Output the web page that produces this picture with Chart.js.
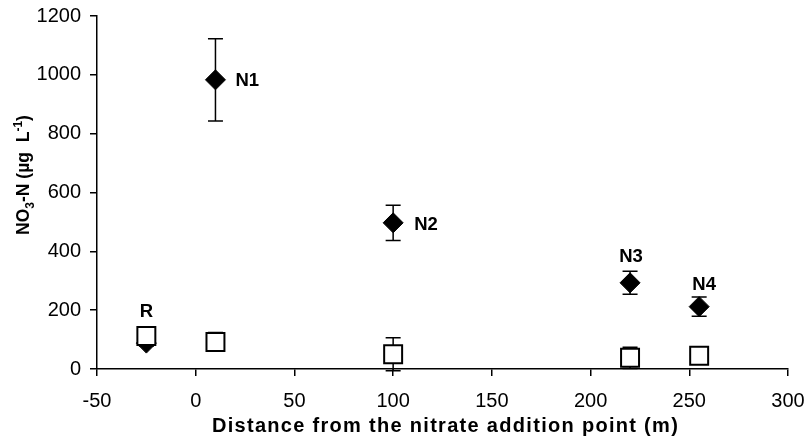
<!DOCTYPE html>
<html><head><meta charset="utf-8">
<script src="https://cdn.jsdelivr.net/npm/chart.js@4.4.1/dist/chart.umd.min.js"></script>
<style>html,body{margin:0;padding:0;background:#fff}#wrap{width:809px;height:445px}</style>
</head><body><div id="wrap"><canvas id="c" width="809" height="445"></canvas></div>
<script>
// ---- data ----
const distanceN = [-25, 10, 100, 220, 255];
const nitrateN = [88, 983, 497, 293, 212];
const nitrateNErr = [10, 140, 60, 39, 33];
const siteLabels = ['R', 'N1', 'N2', 'N3', 'N4'];
const distanceRef = [-25, 10, 100, 220, 255];
const nitrateRef = [112, 92, 50, 38, 45];
const nitrateRefErr = [12, 32, 56, 36, 8];
const xTickValues = [-50, 0, 50, 100, 150, 200, 250, 300];
const yTickValues = [0, 200, 400, 600, 800, 1000, 1200];
const xTitle = 'Distance from the nitrate addition point (m)';
const yTitleParts = [['NO', 'n'], ['3', 'sub'], ['-N (µg  L', 'n'], ['-1', 'sup'], [')', 'n']];

// ---- styling ----
const FONT = '"Liberation Sans", Arial, sans-serif';
const labelPlacement = [
  {dx: 0, dy: -31, align: 'center'},
  {dx: 20, dy: 1, align: 'left'},
  {dx: 21, dy: 2, align: 'left'},
  {dx: 1, dy: -26, align: 'center'},
  {dx: 5, dy: -22, align: 'center'}
];

const errorBars = {
  id: 'errorBars',
  beforeDatasetsDraw(chart) {
    const {ctx, scales: {x, y}} = chart;
    ctx.save();
    ctx.strokeStyle = '#000';
    ctx.lineWidth = 1.5;
    chart.data.datasets.forEach(ds => {
      if (!ds.errors) return;
      ds.data.forEach((p, i) => {
        const e = ds.errors[i];
        const px = x.getPixelForValue(p.x);
        const yt = y.getPixelForValue(p.y + e);
        const yb = y.getPixelForValue(p.y - e);
        ctx.beginPath();
        ctx.moveTo(px, yt); ctx.lineTo(px, yb);
        ctx.moveTo(px - 7.5, yt); ctx.lineTo(px + 7.5, yt);
        ctx.moveTo(px - 7.5, yb); ctx.lineTo(px + 7.5, yb);
        ctx.stroke();
      });
    });
    ctx.restore();
  }
};

const textPlugin = {
  id: 'texts',
  afterDatasetsDraw(chart) {
    const {ctx, chartArea} = chart;
    ctx.save();
    ctx.fillStyle = '#000';
    // point labels
    const meta = chart.getDatasetMeta(1);
    ctx.font = 'bold 18.5px ' + FONT;
    ctx.textBaseline = 'middle';
    meta.data.forEach((el, i) => {
      const pl = labelPlacement[i];
      ctx.textAlign = pl.align;
      ctx.fillText(siteLabels[i], el.x + pl.dx, el.y + pl.dy);
    });
    // x title
    ctx.font = 'bold 20px ' + FONT;
    ctx.textAlign = 'center';
    ctx.textBaseline = 'alphabetic';
    try { ctx.letterSpacing = '1.3px'; } catch (e) {}
    ctx.fillText(xTitle, (chartArea.left + chartArea.right) / 2 + 3, 432);
    try { ctx.letterSpacing = '0px'; } catch (e) {}
    // y title (rotated, with sub/superscript)
    const base = 17.5, small = 12;
    const fontFor = k => 'bold ' + (k === 'n' ? base : small) + 'px ' + FONT;
    let total = 0;
    yTitleParts.forEach(([t, k]) => { ctx.font = fontFor(k); total += ctx.measureText(t).width; });
    ctx.translate(29, 175);
    ctx.rotate(-Math.PI / 2);
    ctx.textAlign = 'left';
    let cx = -total / 2;
    yTitleParts.forEach(([t, k]) => {
      ctx.font = fontFor(k);
      const dy = k === 'sub' ? 5 : (k === 'sup' ? -7 : 0);
      ctx.fillText(t, cx, dy);
      cx += ctx.measureText(t).width;
    });
    ctx.restore();
  }
};

new Chart(document.getElementById('c'), {
  type: 'scatter',
  data: {
    datasets: [
      {
        label: 'Reference',
        data: distanceRef.map((v, i) => ({x: v, y: nitrateRef[i]})),
        errors: nitrateRefErr,
        pointStyle: 'rect', pointRadius: 12.7, pointHoverRadius: 12.7,
        pointBackgroundColor: '#fff', pointBorderColor: '#000', pointBorderWidth: 2,
        showLine: false, order: 0
      },
      {
        label: 'Nitrate',
        data: distanceN.map((v, i) => ({x: v, y: nitrateN[i]})),
        errors: nitrateNErr,
        pointStyle: 'rectRot', pointRadius: 10, pointHoverRadius: 10,
        pointBackgroundColor: '#000', pointBorderColor: '#000', pointBorderWidth: 1,
        showLine: false, order: 1
      }
    ]
  },
  options: {
    responsive: false, animation: false, devicePixelRatio: 1,
    layout: {padding: {left: 0, right: 21, top: 16, bottom: 0}},
    plugins: {legend: {display: false}, tooltip: {enabled: false}},
    scales: {
      x: {
        type: 'linear', min: -50, max: 300,
        afterBuildTicks: s => { s.ticks = xTickValues.map(v => ({value: v})); },
        afterFit: s => { s.height = 76; s.paddingLeft = 0; s.paddingRight = 0; },
        ticks: {font: {family: FONT, size: 20}, color: '#000', padding: 13, maxRotation: 0, autoSkip: false, callback: v => String(v)},
        grid: {drawOnChartArea: false, drawTicks: true, tickLength: 7, color: '#000', lineWidth: 1.5},
        border: {color: '#000', width: 1.5}
      },
      y: {
        type: 'linear', min: 0, max: 1200,
        afterBuildTicks: s => { s.ticks = yTickValues.map(v => ({value: v})); },
        afterFit: s => { s.width = 97; s.paddingTop = 0; s.paddingBottom = 0; },
        ticks: {font: {family: FONT, size: 20}, color: '#000', padding: 9, autoSkip: false, callback: v => String(v)},
        grid: {drawOnChartArea: false, drawTicks: true, tickLength: 7, color: '#000', lineWidth: 1.5},
        border: {color: '#000', width: 1.5}
      }
    }
  },
  plugins: [errorBars, textPlugin]
});
</script></body></html>
